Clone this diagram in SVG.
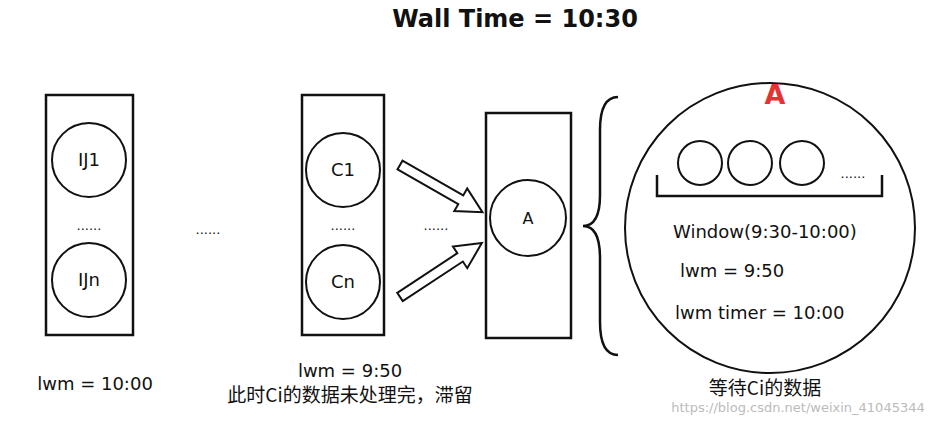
<svg xmlns="http://www.w3.org/2000/svg" width="942" height="424" viewBox="0 0 942 424">
<style>
text{font-family:"DejaVu Sans","Open Sans",sans-serif;font-size:18px;fill:#111}
.b{fill:#fff;stroke:#111;stroke-width:2.5}
.c{fill:#fff;stroke:#111;stroke-width:2}
.d{font-size:13px}
.m{text-anchor:middle}
.z{font-family:"Noto Sans CJK SC",sans-serif;font-size:19px}
</style>
<rect width="942" height="424" fill="#fff"/>
<text x="515" y="27" class="m" style="font-size:24px;font-weight:bold">Wall Time = 10:30</text>
<g id="box1"><rect class="b" x="46" y="95" width="87" height="240"/>
<circle class="c" cx="89" cy="160" r="37"/><text x="89" y="166" class="m">IJ1</text>
<text x="89" y="230" class="m d">......</text>
<circle class="c" cx="89" cy="280" r="37"/><text x="89" y="286" class="m">IJn</text></g>
<text x="208" y="234" class="m d">......</text>
<g id="box2"><rect class="b" x="302" y="95" width="82" height="240"/>
<circle class="c" cx="343" cy="170" r="37"/><text x="343" y="176" class="m">C1</text>
<text x="343" y="230" class="m d">......</text>
<circle class="c" cx="343" cy="282" r="37"/><text x="343" y="288" class="m">Cn</text></g>
<g id="connectors">
<polygon class="c" transform="translate(400,165) rotate(29.8)" points="0,-5 70,-5 70,-13 95,0 70,13 70,5 0,5"/>
<polygon class="c" transform="translate(400,297) rotate(-33.4)" points="0,-5 72,-5 72,-13 98,0 72,13 72,5 0,5"/>
</g>
<text x="436" y="230" class="m d">......</text>
<g id="boxA"><rect class="b" x="486" y="113" width="85" height="225"/>
<circle class="c" cx="528" cy="218" r="38"/><text x="528" y="224" class="m" style="font-size:16px">A</text></g>
<path d="M618,97 Q600,97 600,130 L600,195 Q600,226 583,226 Q600,226 600,258 L600,322 Q600,355 618,355" fill="none" stroke="#111" stroke-width="2.5"/>
<g id="detail"><circle class="c" cx="770" cy="228" r="145"/>
<text x="775" y="104" class="m" style="font-size:27px;font-weight:bold;fill:#e53333">A</text>
<circle class="c" cx="700" cy="163" r="22"/><circle class="c" cx="750" cy="163" r="22"/><circle class="c" cx="802" cy="163" r="22"/>
<text x="853" y="178" class="m d">......</text>
<path d="M657,175 V196 H882 V175" fill="none" stroke="#111" stroke-width="2.5"/>
<text x="673" y="238">Window(9:30-10:00)</text>
<text x="680" y="277">lwm = 9:50</text>
<text x="675" y="319">lwm timer = 10:00</text></g>
<text x="95" y="390" class="m">lwm = 10:00</text>
<text x="350" y="377" class="m">lwm = 9:50</text>
<text x="350" y="402" class="m z">此时Ci的数据未处理完，滞留</text>
<text x="765" y="395" class="m z">等待Ci的数据</text>
<text x="798" y="412" class="m" style="font-size:13px;fill:#bbb">https://blog.csdn.net/weixin_41045344</text>
</svg>
